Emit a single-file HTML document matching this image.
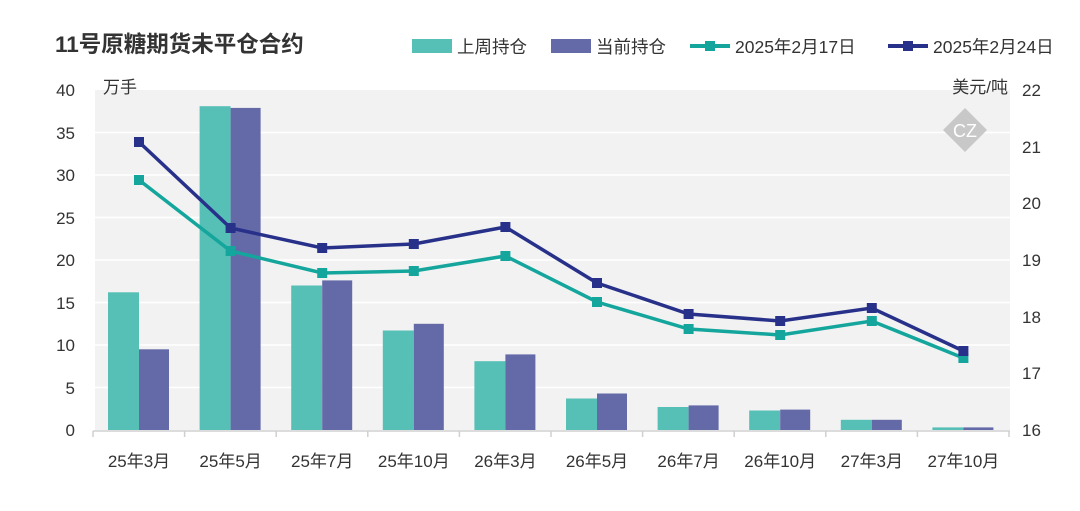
<!DOCTYPE html>
<html><head><meta charset="utf-8"><style>
body{margin:0;background:#fff;}
svg text{font-family:"Liberation Sans","Noto Sans CJK SC",sans-serif;}
</style></head><body>
<svg width="1080" height="506" xmlns="http://www.w3.org/2000/svg">
<rect width="1080" height="506" fill="#fff"/>
<text x="55" y="52" font-size="22.5" font-weight="bold" fill="#333">11号原糖期货未平仓合约</text>
<!-- legend -->
<rect x="412" y="39" width="40" height="14" fill="#56bfb6"/>
<text x="457" y="53" font-size="17.5" fill="#333">上周持仓</text>
<rect x="551" y="39" width="40" height="14" fill="#6469a8"/>
<text x="596" y="53" font-size="17.5" fill="#333">当前持仓</text>
<line x1="690" y1="46" x2="730" y2="46" stroke="#14a69c" stroke-width="4"/>
<rect x="705" y="41" width="10" height="10" fill="#14a69c"/>
<text x="735" y="53" font-size="17.5" fill="#333">2025年2月17日</text>
<line x1="888" y1="46" x2="928" y2="46" stroke="#28318a" stroke-width="4"/>
<rect x="903" y="41" width="10" height="10" fill="#28318a"/>
<text x="933" y="53" font-size="17.5" fill="#333">2025年2月24日</text>
<!-- plot bg -->
<rect x="95" y="90" width="915" height="340" fill="#f2f2f2"/>
<g stroke="#fff" stroke-width="1.5">
<line x1="95" y1="132.5" x2="1010" y2="132.5"/><line x1="95" y1="175" x2="1010" y2="175"/>
<line x1="95" y1="217.5" x2="1010" y2="217.5"/><line x1="95" y1="260" x2="1010" y2="260"/>
<line x1="95" y1="302.5" x2="1010" y2="302.5"/><line x1="95" y1="345" x2="1010" y2="345"/>
<line x1="95" y1="387.5" x2="1010" y2="387.5"/>
</g>
<!-- watermark -->
<polygon points="965,108 987,130 965,152 943,130" fill="#c8c8c8"/>
<text x="965" y="137" font-size="18" fill="#fff" text-anchor="middle" font-family="Liberation Serif">CZ</text>
<!-- bars -->
<g fill="#56bfb6">
<rect x="108" y="292.3" width="31" height="137.7"/>
<rect x="199.6" y="106.2" width="31" height="323.8"/>
<rect x="291.2" y="285.5" width="31" height="144.5"/>
<rect x="382.8" y="330.5" width="31" height="99.5"/>
<rect x="474.4" y="361.2" width="31" height="68.8"/>
<rect x="566" y="398.5" width="31" height="31.5"/>
<rect x="657.6" y="407" width="31" height="23"/>
<rect x="749.2" y="410.5" width="31" height="19.5"/>
<rect x="840.8" y="419.8" width="31" height="10.2"/>
<rect x="932.4" y="427.4" width="31" height="2.6"/>
</g>
<g fill="#6469a8">
<rect x="139" y="349.3" width="30" height="80.7"/>
<rect x="230.6" y="107.9" width="30" height="322.1"/>
<rect x="322.2" y="280.4" width="30" height="149.6"/>
<rect x="413.8" y="323.8" width="30" height="106.2"/>
<rect x="505.4" y="354.4" width="30" height="75.6"/>
<rect x="597" y="393.5" width="30" height="36.5"/>
<rect x="688.6" y="405.4" width="30" height="24.6"/>
<rect x="780.2" y="409.6" width="30" height="20.4"/>
<rect x="871.8" y="419.8" width="30" height="10.2"/>
<rect x="963.4" y="427.4" width="30" height="2.6"/>
</g>
<!-- lines -->
<polyline fill="none" stroke="#14a69c" stroke-width="3.5" points="139,180 230.6,251 322.2,273 413.8,271 505.4,256 597,302 688.6,329 780.2,335 871.8,321 963.4,358"/>
<g fill="#14a69c">
<rect x="134" y="175" width="10" height="10"/><rect x="225.6" y="246" width="10" height="10"/><rect x="317.2" y="268" width="10" height="10"/><rect x="408.8" y="266" width="10" height="10"/><rect x="500.4" y="251" width="10" height="10"/><rect x="592" y="297" width="10" height="10"/><rect x="683.6" y="324" width="10" height="10"/><rect x="775.2" y="330" width="10" height="10"/><rect x="866.8" y="316" width="10" height="10"/><rect x="958.4" y="353" width="10" height="10"/>
</g>
<polyline fill="none" stroke="#28318a" stroke-width="3.5" points="139,142 230.6,228 322.2,248 413.8,244 505.4,227 597,283 688.6,314 780.2,321 871.8,308 963.4,351"/>
<g fill="#28318a">
<rect x="134" y="137" width="10" height="10"/><rect x="225.6" y="223" width="10" height="10"/><rect x="317.2" y="243" width="10" height="10"/><rect x="408.8" y="239" width="10" height="10"/><rect x="500.4" y="222" width="10" height="10"/><rect x="592" y="278" width="10" height="10"/><rect x="683.6" y="309" width="10" height="10"/><rect x="775.2" y="316" width="10" height="10"/><rect x="866.8" y="303" width="10" height="10"/><rect x="958.4" y="346" width="10" height="10"/>
</g>
<!-- x axis -->
<line x1="93" y1="431" x2="1010" y2="431" stroke="#d0d0d0" stroke-width="1.5"/>
<g stroke="#d0d0d0" stroke-width="1.5">
<line x1="93" y1="431" x2="93" y2="437"/><line x1="184.6" y1="431" x2="184.6" y2="437"/><line x1="276.2" y1="431" x2="276.2" y2="437"/><line x1="367.8" y1="431" x2="367.8" y2="437"/><line x1="459.4" y1="431" x2="459.4" y2="437"/><line x1="551" y1="431" x2="551" y2="437"/><line x1="642.6" y1="431" x2="642.6" y2="437"/><line x1="734.2" y1="431" x2="734.2" y2="437"/><line x1="825.8" y1="431" x2="825.8" y2="437"/><line x1="917.4" y1="431" x2="917.4" y2="437"/><line x1="1009" y1="431" x2="1009" y2="437"/>
</g>
<g font-size="17" fill="#333" text-anchor="middle">
<text x="139" y="467">25年3月</text><text x="230.6" y="467">25年5月</text><text x="322.2" y="467">25年7月</text><text x="413.8" y="467">25年10月</text><text x="505.4" y="467">26年3月</text><text x="597" y="467">26年5月</text><text x="688.6" y="467">26年7月</text><text x="780.2" y="467">26年10月</text><text x="871.8" y="467">27年3月</text><text x="963.4" y="467">27年10月</text>
</g>
<g font-size="17" fill="#333" text-anchor="end">
<text x="75" y="96">40</text><text x="75" y="139">35</text><text x="75" y="181">30</text><text x="75" y="224">25</text><text x="75" y="266">20</text><text x="75" y="309">15</text><text x="75" y="351">10</text><text x="75" y="394">5</text><text x="75" y="436">0</text>
</g>
<g font-size="17" fill="#333">
<text x="1022" y="96">22</text><text x="1022" y="153">21</text><text x="1022" y="209">20</text><text x="1022" y="266">19</text><text x="1022" y="323">18</text><text x="1022" y="379">17</text><text x="1022" y="436">16</text>
</g>
<text x="103" y="93" font-size="17" fill="#333">万手</text>
<text x="1008" y="93" font-size="17" fill="#333" text-anchor="end">美元/吨</text>
</svg>
</body></html>
